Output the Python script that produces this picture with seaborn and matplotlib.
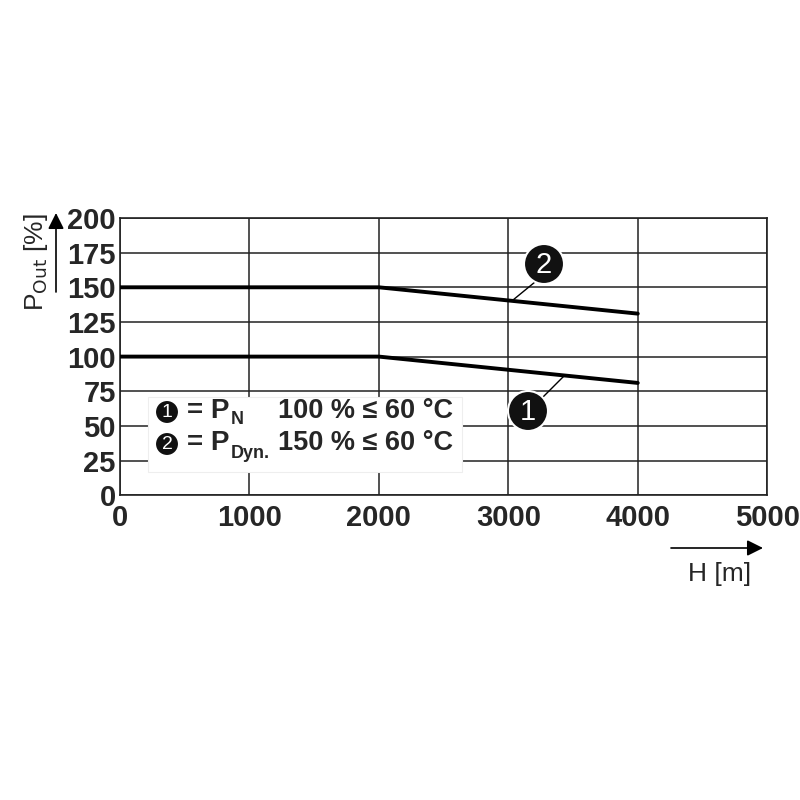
import matplotlib
matplotlib.use("Agg")
import matplotlib.pyplot as plt
import seaborn as sns
import pandas as pd
from matplotlib.patches import Circle, FancyArrowPatch, Rectangle

altitude = [0, 2000, 4000]
p_nominal = [100, 100, 81]
p_dynamic = [150, 150, 131]
x_ticks = [0, 1000, 2000, 3000, 4000, 5000]
y_ticks = [0, 25, 50, 75, 100, 125, 150, 175, 200]

sns.set_theme(style="white")
plt.rcParams['font.family'] = ['Liberation Sans', 'DejaVu Sans']

df = pd.DataFrame({
    "H": altitude * 2,
    "P": p_nominal + p_dynamic,
    "curve": ["1"] * 3 + ["2"] * 3,
})

fig = plt.figure(figsize=(8, 8), dpi=100)
ax = fig.add_axes([0.150, 0.381, 0.809, 0.3465])
sns.lineplot(data=df, x="H", y="P", units="curve", estimator=None,
             color="black", lw=2.8, ax=ax, legend=False, zorder=3)

ax.set_xlim(0, 5000)
ax.set_ylim(0, 200)
ax.set_xticks(x_ticks)
ax.set_yticks(y_ticks)
ax.set_xticklabels([str(t) for t in x_ticks], fontsize=21, fontweight="bold")
ax.set_yticklabels([str(t) for t in y_ticks], fontsize=21, fontweight="bold")
ax.tick_params(axis="x", length=0, pad=6)
ax.tick_params(axis="y", length=0, pad=3)
ax.grid(True, color="#222222", lw=1.1)
for s in ax.spines.values():
    s.set_color("#222222")
    s.set_linewidth(1.2)
ax.set_xlabel("")
ax.set_ylabel("")

# legend box
ax.add_patch(Rectangle((0.043, 0.085), 0.486, 0.27, transform=ax.transAxes,
                       facecolor="white", edgecolor="#eeeeee", lw=0.8, zorder=4))


def fig_badge(px, py, txt, r, fs):
    c = Circle((px / 800, 1 - py / 800), r / 800, transform=fig.transFigure,
               facecolor="#111111", edgecolor="white", lw=1.5, zorder=6)
    fig.add_artist(c)
    fig.text(px / 800, 1 - py / 800 - 0.001, txt, fontsize=fs, color="white",
             ha="center", va="center", zorder=7)


fig_badge(167, 412, "1", 12, 14)
fig_badge(167, 444, "2", 12, 14)
fig.text(187 / 800, 1 - 411 / 800, "= P", fontsize=20, fontweight="bold",
         ha="left", va="center", zorder=7)
fig.text(231 / 800, 1 - 420 / 800, "N", fontsize=13, fontweight="bold",
         ha="left", va="center", zorder=7)
fig.text(187 / 800, 1 - 443 / 800, "= P", fontsize=20, fontweight="bold",
         ha="left", va="center", zorder=7)
fig.text(231 / 800, 1 - 453 / 800, "Dyn.", fontsize=13, fontweight="bold",
         ha="left", va="center", zorder=7)
fig.text(278 / 800, 1 - 411 / 800, "100 % ≤ 60 °C", fontsize=19.5,
         fontweight="bold", ha="left", va="center", zorder=7)
fig.text(278 / 800, 1 - 443 / 800, "150 % ≤ 60 °C", fontsize=19.5,
         fontweight="bold", ha="left", va="center", zorder=7)

# annotation badges
fig.add_artist(plt.Line2D([513 / 800, 535 / 800], [1 - 300 / 800, 1 - 282 / 800],
                          transform=fig.transFigure, color="black", lw=1, zorder=5))
fig.add_artist(plt.Line2D([565 / 800, 543 / 800], [1 - 375 / 800, 1 - 397 / 800],
                          transform=fig.transFigure, color="black", lw=1, zorder=5))
fig_badge(544, 264, "2", 20, 21)
fig_badge(528, 411, "1", 20, 21)

# axis labels with arrows
fig.text(36 / 800, 1 - 262 / 800, r"P$_{\rm Out}$ [%]", fontsize=19,
         rotation=90, ha="center", va="center")
fig.add_artist(FancyArrowPatch((56 / 800, 1 - 292 / 800), (56 / 800, 1 - 213 / 800),
                               transform=fig.transFigure, arrowstyle="-|>",
                               mutation_scale=24, color="black", lw=1.2,
                               shrinkA=0, shrinkB=0))
fig.text(720 / 800, 1 - 574 / 800, "H [m]", fontsize=19, ha="center", va="center")
fig.add_artist(FancyArrowPatch((671 / 800, 1 - 548 / 800), (763 / 800, 1 - 548 / 800),
                               transform=fig.transFigure, arrowstyle="-|>",
                               mutation_scale=24, color="black", lw=1.2,
                               shrinkA=0, shrinkB=0))

fig.savefig("out.png", dpi=100, facecolor="white")
